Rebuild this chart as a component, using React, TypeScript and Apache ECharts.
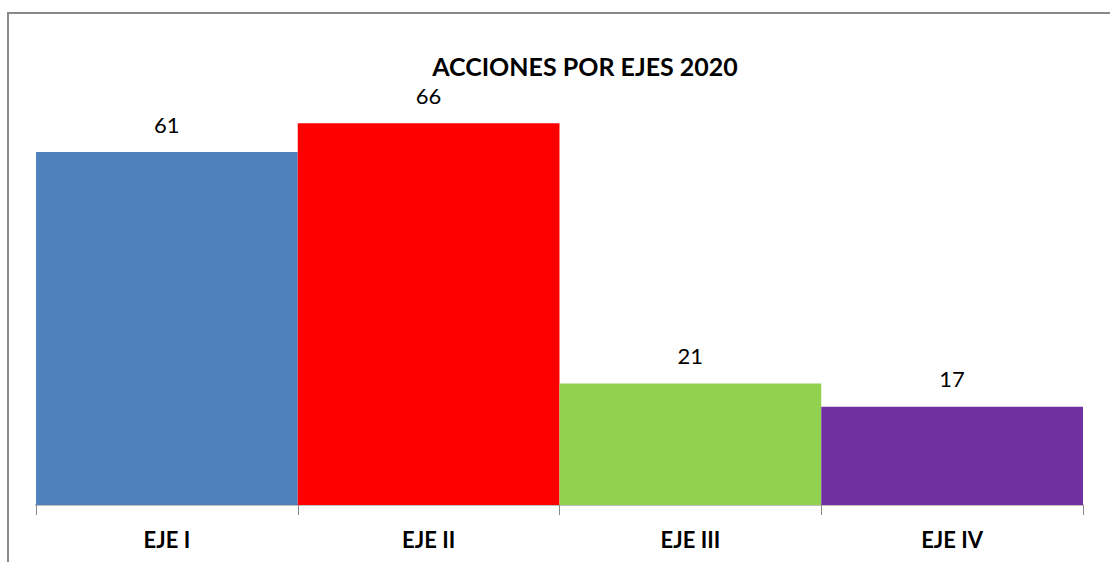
import React, { useEffect, useRef } from "react";
import * as echarts from "echarts";

const categories = ["EJE I", "EJE II", "EJE III", "EJE IV"];
const values = [61, 66, 21, 17];
const barColors = ["#4F81BD", "#FF0000", "#92D050", "#7030A0"];
const titleText = "ACCIONES POR EJES 2020";

export default function App() {
  const ref = useRef<HTMLDivElement>(null);
  useEffect(() => {
    document.body.style.margin = "0";
    const chart = echarts.init(ref.current!, null, { renderer: "svg" });
    chart.setOption({
      animation: false,
      backgroundColor: "#ffffff",
      title: {
        text: titleText,
        left: 580,
        top: 48,
        textAlign: "center",
        textStyle: { fontFamily: "Lato", fontWeight: "bold", fontSize: 25, color: "#000" },
      },
      graphic: [
        {
          type: "rect",
          shape: { x: 8, y: 13, width: 1200, height: 700 },
          style: { fill: "none", stroke: "#898989", lineWidth: 2 },
          silent: true,
        },
      ],
      grid: { left: 36, right: 27, top: 100, bottom: 57 },
      xAxis: {
        type: "category",
        data: categories,
        boundaryGap: true,
        axisLine: { lineStyle: { color: "#BFBFBF", width: 2 } },
        axisTick: { show: true, length: 10, lineStyle: { color: "#898989", width: 1 } },
        axisLabel: {
          margin: 23,
          fontFamily: "Lato",
          fontWeight: "bold",
          fontSize: 22,
          color: "#000",
        },
      },
      yAxis: {
        type: "value",
        min: 0,
        max: 70,
        show: false,
        splitLine: { show: false },
      },
      series: [
        {
          type: "bar",
          barCategoryGap: "0%",
          data: values.map((v, i) => ({ value: v, itemStyle: { color: barColors[i] } })),
          label: {
            show: true,
            position: "top",
            distance: 17,
            fontFamily: "Lato",
            fontSize: 22,
            color: "#000",
          },
        },
      ],
    });
    return () => chart.dispose();
  }, []);
  return <div ref={ref} style={{ width: 1110, height: 562 }} />;
}
